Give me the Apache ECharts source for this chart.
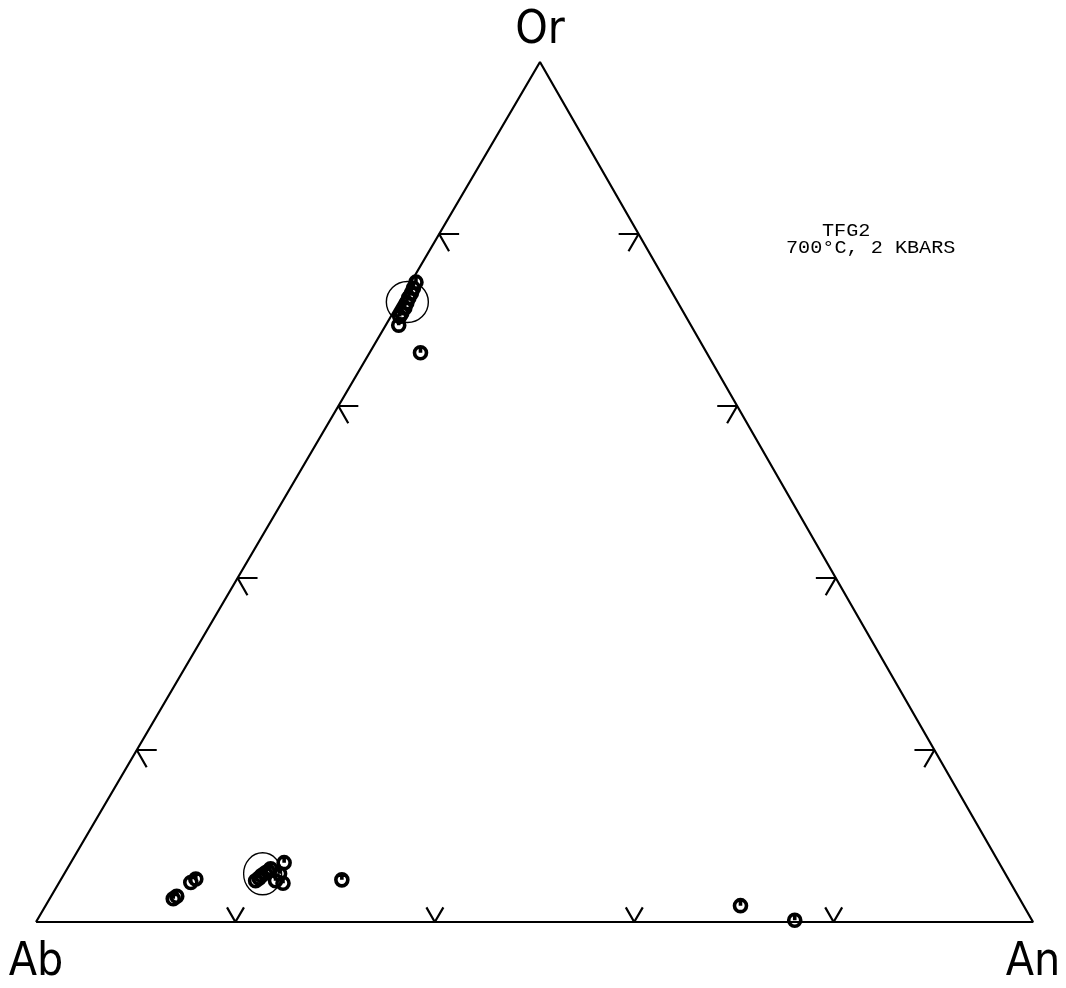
<!DOCTYPE html>
<html>
<head>
<meta charset="utf-8">
<script src="https://cdn.jsdelivr.net/npm/echarts@6/dist/echarts.min.js"></script>
<style>
  html, body { margin: 0; padding: 0; background: #fff; }
  #chart { width: 1066px; height: 988px; }
</style>
</head>
<body>
<div id="chart"></div>
<script>
// Feldspar compositions in mol percent, each row is [Ab, Or, An]
const vertexNames = ['Ab', 'Or', 'An'];
const tickValues = [20, 40, 60, 80];

// alkali feldspar (Or-rich) analyses
const alkaliFeldspar = [
  [25.1, 74.4, 0.5],
  [25.7, 73.7, 0.6],
  [26.2, 73.1, 0.7],
  [26.7, 72.6, 0.7],
  [27.2, 72.0, 0.8],
  [27.7, 71.4, 0.9],
  [28.3, 70.8, 0.9],
  [28.7, 70.4, 0.9],
  [29.3, 69.4, 1.3],
  [28.7, 66.2, 5.1]
];

// plagioclase analyses
const plagioclase = [
  [84.9, 2.7, 12.4],
  [84.4, 3.0, 12.6],
  [82.2, 4.6, 13.2],
  [81.5, 5.0, 13.5],
  [75.6, 4.8, 19.6],
  [75.1, 5.1, 19.8],
  [74.7, 5.4, 19.9],
  [74.2, 5.7, 20.1],
  [73.8, 5.9, 20.3],
  [73.4, 6.2, 20.4],
  [73.6, 4.8, 21.6],
  [73.0, 4.5, 22.5],
  [71.7, 6.9, 21.4],
  [72.8, 5.6, 21.6],
  [66.9, 4.9, 28.2],
  [28.4, 1.9, 69.7],
  [23.8, 0.2, 76.0]
];

// centres of the two outlined groups
const groupCentres = [
  [27.1, 72.1, 0.8],
  [74.5, 5.6, 19.9]
];

const textLines = ['TFG2', '700°C, 2 KBARS'];

// ---- ternary -> cartesian (x along Ab-An base, y = Or fraction) ----
const APEX_X = 0.5055;
function toXY(p) {
  const s = p[0] + p[1] + p[2];
  const or = p[1] / s, an = p[2] / s;
  return [an + or * APEX_X, or];
}

const vertices = [[100, 0, 0], [0, 100, 0], [0, 0, 100]];

// tick arrows: apex on an edge, two short arms along lines of constant composition
const D = 2.0;
const tickPolys = [];
tickValues.forEach(v => {
  // Ab-Or edge (An = 0), v = Or
  tickPolys.push([
    [100 - v - D, v, D],
    [100 - v, v, 0],
    [100 - v, v - D, D]
  ]);
  // Or-An edge (Ab = 0), v = Or
  tickPolys.push([
    [D, v, 100 - v - D],
    [0, v, 100 - v],
    [D, v - D, 100 - v]
  ]);
  // Ab-An edge (Or = 0), v = An
  tickPolys.push([
    [100 - v - D * 0.85, D * 0.85, v],
    [100 - v, 0, v],
    [100 - v, D * 0.85, v - D * 0.85]
  ]);
});

const markerPath = 'path://M10,0 A10,10 0 1 1 10,20 A10,10 0 1 1 10,0 M10,0 L10,10';

const series = [];
series.push({
  type: 'line',
  data: vertices.concat([vertices[0]]).map(toXY),
  symbol: 'none',
  lineStyle: { color: '#000', width: 2.2 },
  silent: true,
  z: 1
});
tickPolys.forEach(poly => {
  series.push({
    type: 'line',
    data: poly.map(toXY),
    symbol: 'none',
    lineStyle: { color: '#000', width: 2.2 },
    silent: true,
    z: 1
  });
});
series.push({
  type: 'scatter',
  data: [
    { value: toXY(groupCentres[0]), symbolSize: [42, 41] },
    { value: toXY(groupCentres[1]), symbolSize: [38, 42] }
  ],
  symbol: 'circle',
  itemStyle: { color: 'rgba(0,0,0,0)', borderColor: '#000', borderWidth: 1.4, opacity: 1 },
  silent: true,
  z: 2
});
series.push({
  type: 'scatter',
  data: alkaliFeldspar.concat(plagioclase).map(toXY),
  symbol: markerPath,
  symbolSize: 12,
  itemStyle: { color: 'rgba(0,0,0,0)', borderColor: '#000', borderWidth: 3.6, opacity: 1 },
  silent: true,
  z: 3
});
// corner labels
const labelPos = ['bottom', 'top', 'bottom'];
const labelStyle = {
  show: true,
  color: '#000',
  fontSize: 46,
  lineHeight: 46,
  fontFamily: '"Liberation Sans Narrow", "DejaVu Sans Condensed", sans-serif'
};
series.push({
  type: 'scatter',
  data: vertices.map((v, i) => ({
    value: toXY(v),
    label: Object.assign({}, labelStyle, {
      formatter: vertexNames[i],
      position: labelPos[i],
      distance: labelPos[i] === 'top' ? 8 : 18
    })
  })),
  symbolSize: 0,
  itemStyle: { opacity: 1 },
  silent: true,
  z: 4
});

const chart = echarts.init(document.getElementById('chart'), null, { renderer: 'canvas' });
chart.setOption({
  backgroundColor: '#fff',
  animation: false,
  grid: { left: 36, right: 33, top: 62, bottom: 66 },
  xAxis: { type: 'value', min: 0, max: 1, show: false },
  yAxis: { type: 'value', min: 0, max: 1, show: false },
  graphic: [
    {
      type: 'text', left: 822, top: 222, scaleX: 1.12,
      style: { text: textLines[0], font: '18px "Liberation Mono", monospace', fill: '#000' }
    },
    {
      type: 'text', left: 786, top: 239, scaleX: 1.12,
      style: { text: textLines[1], font: '18px "Liberation Mono", monospace', fill: '#000' }
    }
  ],
  series: series
});
</script>
</body>
</html>
